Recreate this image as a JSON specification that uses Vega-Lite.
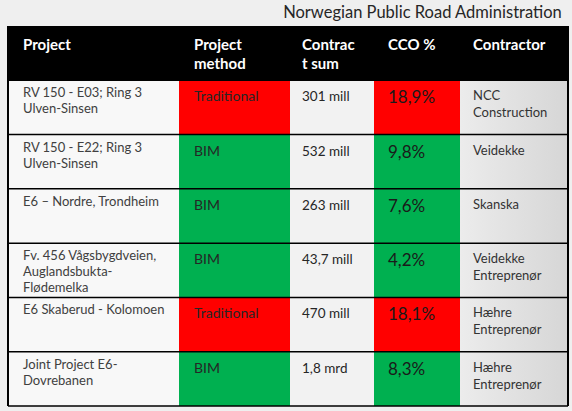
{
  "$schema": "https://vega.github.io/schema/vega-lite/v6.json",
  "background": "#efefef",
  "bounds": "flush",
  "padding": {"left": 7, "top": 4, "right": 5, "bottom": 4},
  "title": {"text": "Norwegian Public Road Administration", "anchor": "end", "fontSize": 16.5, "fontWeight": "normal", "font": "Lato", "color": "#262626", "offset": 4, "dx": -7},
  "spacing": 0,
  "config": {"view": {"stroke": null}, "concat": {"spacing": 0}},
  "data": {"values": [
    {"row": 0, "project": "Project", "method": "Project\nmethod", "sum": "Contrac\nt sum", "cco": "CCO %", "contractor": "Contractor"},
    {"row": 1, "project": "RV 150 - E03; Ring 3\nUlven-Sinsen", "method": "Traditional", "sum": "301 mill", "cco": "18,9%", "contractor": "NCC\nConstruction"},
    {"row": 2, "project": "RV 150 - E22; Ring 3\nUlven-Sinsen", "method": "BIM", "sum": "532 mill", "cco": "9,8%", "contractor": "Veidekke"},
    {"row": 3, "project": "E6 – Nordre, Trondheim", "method": "BIM", "sum": "263 mill", "cco": "7,6%", "contractor": "Skanska"},
    {"row": 4, "project": "Fv. 456 Vågsbygdveien,\nAuglandsbukta-\nFlødemelka", "method": "BIM", "sum": "43,7 mill", "cco": "4,2%", "contractor": "Veidekke\nEntreprenør"},
    {"row": 5, "project": "E6 Skaberud - Kolomoen", "method": "Traditional", "sum": "470 mill", "cco": "18,1%", "contractor": "Hæhre\nEntreprenør"},
    {"row": 6, "project": "Joint Project E6-\nDovrebanen", "method": "BIM", "sum": "1,8 mrd", "cco": "8,3%", "contractor": "Hæhre\nEntreprenør"}
  ]},
  "hconcat": [
    {
      "width": 171, "height": 380,
      "layer": [
        {"mark": {"type": "rect"}, "encoding": {
          "x": {"datum": "c", "type": "nominal", "axis": null, "scale": {"paddingInner": 0, "paddingOuter": 0}},
          "y": {"field": "row", "type": "ordinal", "axis": null, "scale": {"paddingInner": 0, "paddingOuter": 0}},
          "color": {"condition": {"test": "datum.row===0", "value": "black"}, "value": "#f8f8f8"}}},
        {"mark": {"type": "rule", "color": "black", "strokeWidth": 1.5}, "encoding": {
          "y": {"field": "row", "type": "ordinal", "axis": null, "bandPosition": 1}}},
        {"mark": {"type": "rule", "color": "black", "strokeWidth": 1.5}, "encoding": {
          "x": {"datum": "c", "type": "nominal", "axis": null, "bandPosition": 0}}},
        {"transform": [{"filter": "datum.row===0"}],
         "mark": {"type": "text", "align": "left", "baseline": "top", "dx": 15, "dy": 12, "lineBreak": "\n", "lineHeight": 19, "font": "Lato", "fontSize": 15, "fontWeight": "bold", "color": "white"},
         "encoding": {
          "x": {"datum": "c", "type": "nominal", "axis": null, "bandPosition": 0},
          "y": {"field": "row", "type": "ordinal", "axis": null, "bandPosition": 0},
          "text": {"field": "project"}}},
        {"transform": [{"filter": "datum.row>0"}],
         "mark": {"type": "text", "align": "left", "baseline": "top", "dx": 15, "dy": 7, "lineBreak": "\n", "lineHeight": 16, "font": "Lato", "fontSize": 13, "color": "#404040"},
         "encoding": {
          "x": {"datum": "c", "type": "nominal", "axis": null, "bandPosition": 0},
          "y": {"field": "row", "type": "ordinal", "axis": null, "bandPosition": 0},
          "text": {"field": "project"}}}
      ]
    },
    {
      "width": 111, "height": 380,
      "layer": [
        {"mark": {"type": "rect"}, "encoding": {
          "x": {"datum": "c", "type": "nominal", "axis": null, "scale": {"paddingInner": 0, "paddingOuter": 0}},
          "y": {"field": "row", "type": "ordinal", "axis": null, "scale": {"paddingInner": 0, "paddingOuter": 0}},
          "color": {"condition": [{"test": "datum.row===0", "value": "black"}, {"test": "datum.method==='Traditional'", "value": "#ff0000"}], "value": "#00b050"}}},
        {"mark": {"type": "rule", "color": "black", "strokeWidth": 1.5}, "encoding": {
          "y": {"field": "row", "type": "ordinal", "axis": null, "bandPosition": 1}}},
        {"transform": [{"filter": "datum.row===0"}],
         "mark": {"type": "text", "align": "left", "baseline": "top", "dx": 15, "dy": 12, "lineBreak": "\n", "lineHeight": 19, "font": "Lato", "fontSize": 15, "fontWeight": "bold", "color": "white"},
         "encoding": {
          "x": {"datum": "c", "type": "nominal", "axis": null, "bandPosition": 0},
          "y": {"field": "row", "type": "ordinal", "axis": null, "bandPosition": 0},
          "text": {"field": "method"}}},
        {"transform": [{"filter": "datum.row>0"}],
         "mark": {"type": "text", "align": "left", "baseline": "top", "dx": 15, "dy": 10, "lineBreak": "\n", "lineHeight": 17, "font": "Lato", "fontSize": 14, "color": "#262626"},
         "encoding": {
          "x": {"datum": "c", "type": "nominal", "axis": null, "bandPosition": 0},
          "y": {"field": "row", "type": "ordinal", "axis": null, "bandPosition": 0},
          "text": {"field": "method"}}}
      ]
    },
    {
      "width": 84, "height": 380,
      "layer": [
        {"mark": {"type": "rect"}, "encoding": {
          "x": {"datum": "c", "type": "nominal", "axis": null, "scale": {"paddingInner": 0, "paddingOuter": 0}},
          "y": {"field": "row", "type": "ordinal", "axis": null, "scale": {"paddingInner": 0, "paddingOuter": 0}},
          "color": {"condition": {"test": "datum.row===0", "value": "black"}, "value": "#f2f2f2"}}},
        {"mark": {"type": "rule", "color": "black", "strokeWidth": 1.5}, "encoding": {
          "y": {"field": "row", "type": "ordinal", "axis": null, "bandPosition": 1}}},
        {"transform": [{"filter": "datum.row===0"}],
         "mark": {"type": "text", "align": "left", "baseline": "top", "dx": 12, "dy": 12, "lineBreak": "\n", "lineHeight": 19, "font": "Lato", "fontSize": 15, "fontWeight": "bold", "color": "white"},
         "encoding": {
          "x": {"datum": "c", "type": "nominal", "axis": null, "bandPosition": 0},
          "y": {"field": "row", "type": "ordinal", "axis": null, "bandPosition": 0},
          "text": {"field": "sum"}}},
        {"transform": [{"filter": "datum.row>0"}],
         "mark": {"type": "text", "align": "left", "baseline": "top", "dx": 12, "dy": 10, "lineBreak": "\n", "lineHeight": 17, "font": "Lato", "fontSize": 13.5, "color": "#262626"},
         "encoding": {
          "x": {"datum": "c", "type": "nominal", "axis": null, "bandPosition": 0},
          "y": {"field": "row", "type": "ordinal", "axis": null, "bandPosition": 0},
          "text": {"field": "sum"}}}
      ]
    },
    {
      "width": 86, "height": 380,
      "layer": [
        {"mark": {"type": "rect"}, "encoding": {
          "x": {"datum": "c", "type": "nominal", "axis": null, "scale": {"paddingInner": 0, "paddingOuter": 0}},
          "y": {"field": "row", "type": "ordinal", "axis": null, "scale": {"paddingInner": 0, "paddingOuter": 0}},
          "color": {"condition": [{"test": "datum.row===0", "value": "black"}, {"test": "datum.method==='Traditional'", "value": "#ff0000"}], "value": "#00b050"}}},
        {"mark": {"type": "rule", "color": "black", "strokeWidth": 1.5}, "encoding": {
          "y": {"field": "row", "type": "ordinal", "axis": null, "bandPosition": 1}}},
        {"transform": [{"filter": "datum.row===0"}],
         "mark": {"type": "text", "align": "left", "baseline": "top", "dx": 14, "dy": 12, "lineBreak": "\n", "lineHeight": 19, "font": "Lato", "fontSize": 15, "fontWeight": "bold", "color": "white"},
         "encoding": {
          "x": {"datum": "c", "type": "nominal", "axis": null, "bandPosition": 0},
          "y": {"field": "row", "type": "ordinal", "axis": null, "bandPosition": 0},
          "text": {"field": "cco"}}},
        {"transform": [{"filter": "datum.row>0"}],
         "mark": {"type": "text", "align": "left", "baseline": "top", "dx": 14, "dy": 10, "lineBreak": "\n", "lineHeight": 17, "font": "Lato", "fontSize": 17, "color": "#1a1a1a"},
         "encoding": {
          "x": {"datum": "c", "type": "nominal", "axis": null, "bandPosition": 0},
          "y": {"field": "row", "type": "ordinal", "axis": null, "bandPosition": 0},
          "text": {"field": "cco"}}}
      ]
    },
    {
      "width": 108, "height": 380,
      "layer": [
        {"mark": {"type": "rect"}, "encoding": {
          "x": {"datum": "c", "type": "nominal", "axis": null, "scale": {"paddingInner": 0, "paddingOuter": 0}},
          "y": {"field": "row", "type": "ordinal", "axis": null, "scale": {"paddingInner": 0, "paddingOuter": 0}},
          "color": {"condition": {"test": "datum.row===0", "value": "black"}, "value": {"gradient": "linear", "x1": 0, "x2": 1, "y1": 0, "y2": 0, "stops": [{"offset": 0, "color": "#ececec"}, {"offset": 1, "color": "#d6d6d6"}]}}}},
        {"mark": {"type": "rule", "color": "black", "strokeWidth": 1.5}, "encoding": {
          "y": {"field": "row", "type": "ordinal", "axis": null, "bandPosition": 1}}},
        {"mark": {"type": "rule", "color": "black", "strokeWidth": 1.5}, "encoding": {
          "x": {"datum": "c", "type": "nominal", "axis": null, "bandPosition": 1}}},
        {"transform": [{"filter": "datum.row===0"}],
         "mark": {"type": "text", "align": "left", "baseline": "top", "dx": 13, "dy": 12, "lineBreak": "\n", "lineHeight": 19, "font": "Lato", "fontSize": 15, "fontWeight": "bold", "color": "white"},
         "encoding": {
          "x": {"datum": "c", "type": "nominal", "axis": null, "bandPosition": 0},
          "y": {"field": "row", "type": "ordinal", "axis": null, "bandPosition": 0},
          "text": {"field": "contractor"}}},
        {"transform": [{"filter": "datum.row>0"}],
         "mark": {"type": "text", "align": "left", "baseline": "top", "dx": 13, "dy": 10, "lineBreak": "\n", "lineHeight": 17, "font": "Lato", "fontSize": 13, "color": "#333333"},
         "encoding": {
          "x": {"datum": "c", "type": "nominal", "axis": null, "bandPosition": 0},
          "y": {"field": "row", "type": "ordinal", "axis": null, "bandPosition": 0},
          "text": {"field": "contractor"}}}
      ]
    }
  ]
}
